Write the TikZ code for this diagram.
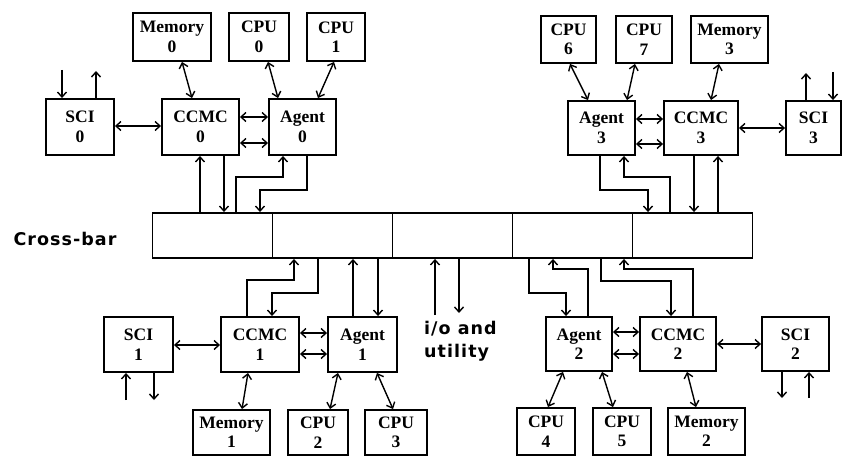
\documentclass[tikz,border=0pt]{standalone}
\usepackage{fontspec}
\setmainfont{Liberation Serif}
\newfontfamily\labsans[LetterSpace=6]{DejaVu Sans}
\usetikzlibrary{arrows.meta}
\begin{document}
\begin{tikzpicture}[x=1pt,y=-1pt,
  box/.style={draw,line width=1.9pt,inner sep=0pt,align=center,
    font=\bfseries\fontsize{17.5}{19.5}\selectfont},
  wire/.style={line width=1.4pt},
  >={Straight Barb[length=5pt,width=9pt]},
  cell/.style={draw,line width=1.9pt,minimum width=120pt,minimum height=45pt,inner sep=0pt},
  side/.style={font=\labsans\bfseries\fontsize{17.5}{23}\selectfont,inner sep=0pt}]
\useasboundingbox (0,0) rectangle (843,457);
% cross-bar
\node[cell] (xb1) at (212.5,235.5) {};
\node[cell] (xb2) at (332.5,235.5) {};
\node[cell] (xb3) at (452.5,235.5) {};
\node[cell] (xb4) at (572.5,235.5) {};
\node[cell] (xb5) at (692.5,235.5) {};
\node[side] (lab) at (65,239) {Cross-bar};
\node[side,align=left,anchor=north west] (io) at (424,321) {i/o and\\utility};
% top-left group
\node[box,minimum width=78pt,minimum height=48pt] (mem0) at (172,37) {Memory\\0};
\node[box,minimum width=60pt,minimum height=48pt] (cpu0) at (259,37) {CPU\\0};
\node[box,minimum width=58pt,minimum height=48pt] (cpu1) at (336,37) {CPU\\1};
\node[box,minimum width=68pt,minimum height=56pt] (sci0) at (80,127) {SCI\\0};
\node[box,minimum width=77pt,minimum height=56pt] (cc0) at (200.5,127) {CCMC\\0};
\node[box,minimum width=67pt,minimum height=56pt] (ag0) at (302.5,127) {Agent\\0};
% top-right group
\node[box,minimum width=55pt,minimum height=47pt] (cpu6) at (568.5,39.5) {CPU\\6};
\node[box,minimum width=56pt,minimum height=47pt] (cpu7) at (644,39.5) {CPU\\7};
\node[box,minimum width=77pt,minimum height=47pt] (mem3) at (729.5,39.5) {Memory\\3};
\node[box,minimum width=67pt,minimum height=54pt] (ag3) at (601.5,128) {Agent\\3};
\node[box,minimum width=74pt,minimum height=54pt] (cc3) at (701,128) {CCMC\\3};
\node[box,minimum width=55pt,minimum height=54pt] (sci3) at (813.5,128) {SCI\\3};
% bottom-left group
\node[box,minimum width=69pt,minimum height=55pt] (sci1) at (138.5,344.5) {SCI\\1};
\node[box,minimum width=78pt,minimum height=55pt] (cc1) at (260,344.5) {CCMC\\1};
\node[box,minimum width=69pt,minimum height=55pt] (ag1) at (362.5,344.5) {Agent\\1};
\node[box,minimum width=77pt,minimum height=45pt] (mem1) at (231.5,432.5) {Memory\\1};
\node[box,minimum width=60pt,minimum height=45pt] (cpu2) at (318,432.5) {CPU\\2};
\node[box,minimum width=62pt,minimum height=45pt] (cpu3) at (396,432.5) {CPU\\3};
% bottom-right group
\node[box,minimum width=66pt,minimum height=54pt] (ag2) at (579,344) {Agent\\2};
\node[box,minimum width=76pt,minimum height=54pt] (cc2) at (678,344) {CCMC\\2};
\node[box,minimum width=67pt,minimum height=54pt] (sci2) at (795.5,344) {SCI\\2};
\node[box,minimum width=58pt,minimum height=47pt] (cpu4) at (546,431.5) {CPU\\4};
\node[box,minimum width=58pt,minimum height=47pt] (cpu5) at (622,431.5) {CPU\\5};
\node[box,minimum width=77pt,minimum height=47pt] (mem2) at (706.5,431.5) {Memory\\2};
% free ends
\coordinate (s0a) at (62,70); \coordinate (s0b) at (96,71);
\coordinate (s3a) at (806,73); \coordinate (s3b) at (833,72);
\coordinate (s1a) at (126,400); \coordinate (s1b) at (154,400);
\coordinate (s2a) at (782,398); \coordinate (s2b) at (809,398);
\coordinate (ioa) at (435,315); \coordinate (iob) at (459,313);
% ---- top-left connectors
\draw[wire,->] (s0a) -- (sci0.north -| s0a);
\draw[wire,->] (sci0.north -| s0b) -- (s0b);
\draw[wire,<->] (sci0.east |- 0,126) -- (cc0.west |- 0,126);
\draw[wire,<->] (cc0.east |- 0,117) -- (ag0.west |- 0,117);
\draw[wire,<->] (cc0.east |- 0,143) -- (ag0.west |- 0,143);
\draw[wire,<->] (mem0.south -| 182,0) -- (cc0.north -| 192,0);
\draw[wire,<->] (cpu0.south -| 268,0) -- (ag0.north -| 278,0);
\draw[wire,<->] (cpu1.south -| 334,0) -- (ag0.north -| 318,0);
\draw[wire,->] (xb1.north -| 200,0) -- (cc0.south -| 200,0);
\draw[wire,->] (cc0.south -| 224,0) -- (xb1.north -| 224,0);
\draw[wire,->] (xb1.north -| 236,0) -- (236,177) -- (283,177) -- (ag0.south -| 283,0);
\draw[wire,->] (ag0.south -| 307,0) -- (307,190) -- (260,190) -- (xb1.north -| 260,0);
% ---- top-right connectors
\draw[wire,<->] (cpu6.south -| 570,0) -- (ag3.north -| 588,0);
\draw[wire,<->] (cpu7.south -| 635,0) -- (ag3.north -| 627,0);
\draw[wire,<->] (mem3.south -| 719,0) -- (cc3.north -| 711,0);
\draw[wire,<->] (ag3.east |- 0,119) -- (cc3.west |- 0,119);
\draw[wire,<->] (ag3.east |- 0,144) -- (cc3.west |- 0,144);
\draw[wire,<->] (cc3.east |- 0,128) -- (sci3.west |- 0,128);
\draw[wire,->] (sci3.north -| s3a) -- (s3a);
\draw[wire,->] (s3b) -- (sci3.north -| s3b);
\draw[wire,->] (ag3.south -| 600,0) -- (600,190) -- (648,190) -- (xb5.north -| 648,0);
\draw[wire,->] (xb5.north -| 670,0) -- (670,177) -- (624,177) -- (ag3.south -| 624,0);
\draw[wire,->] (cc3.south -| 694,0) -- (xb5.north -| 694,0);
\draw[wire,->] (xb5.north -| 718,0) -- (cc3.south -| 718,0);
% ---- bottom-left connectors
\draw[wire,->] (s1a) -- (sci1.south -| s1a);
\draw[wire,->] (sci1.south -| s1b) -- (s1b);
\draw[wire,<->] (sci1.east |- 0,345) -- (cc1.west |- 0,345);
\draw[wire,<->] (cc1.east |- 0,333) -- (ag1.west |- 0,333);
\draw[wire,<->] (cc1.east |- 0,354) -- (ag1.west |- 0,354);
\draw[wire,<->] (cc1.south -| 248,0) -- (mem1.north -| 242,0);
\draw[wire,<->] (ag1.south -| 338,0) -- (cpu2.north -| 330,0);
\draw[wire,<->] (ag1.south -| 377,0) -- (cpu3.north -| 393,0);
\draw[wire,->] (cc1.north -| 247,0) -- (247,280) -- (294,280) -- (xb2.south -| 294,0);
\draw[wire,->] (xb2.south -| 318,0) -- (318,293) -- (272,293) -- (cc1.north -| 272,0);
\draw[wire,->] (ag1.north -| 353,0) -- (xb2.south -| 353,0);
\draw[wire,->] (xb2.south -| 378,0) -- (ag1.north -| 378,0);
% ---- i/o
\draw[wire,->] (ioa) -- (xb3.south -| ioa);
\draw[wire,->] (xb3.south -| iob) -- (iob);
% ---- bottom-right connectors
\draw[wire,->] (xb4.south -| 529,0) -- (529,293) -- (566,293) -- (ag2.north -| 566,0);
\draw[wire,->] (ag2.north -| 588,0) -- (588,269) -- (553,269) -- (xb4.south -| 553,0);
\draw[wire,->] (xb4.south -| 601,0) -- (601,281) -- (671,281) -- (cc2.north -| 671,0);
\draw[wire,->] (cc2.north -| 693,0) -- (693,269) -- (624,269) -- (xb4.south -| 624,0);
\draw[wire,<->] (ag2.east |- 0,332) -- (cc2.west |- 0,332);
\draw[wire,<->] (ag2.east |- 0,354) -- (cc2.west |- 0,354);
\draw[wire,<->] (cc2.east |- 0,344) -- (sci2.west |- 0,344);
\draw[wire,->] (sci2.south -| s2a) -- (s2a);
\draw[wire,->] (s2b) -- (sci2.south -| s2b);
\draw[wire,<->] (ag2.south -| 563,0) -- (cpu4.north -| 548,0);
\draw[wire,<->] (ag2.south -| 602,0) -- (cpu5.north -| 613,0);
\draw[wire,<->] (cc2.south -| 687,0) -- (mem2.north -| 696,0);
\end{tikzpicture}
\end{document}
